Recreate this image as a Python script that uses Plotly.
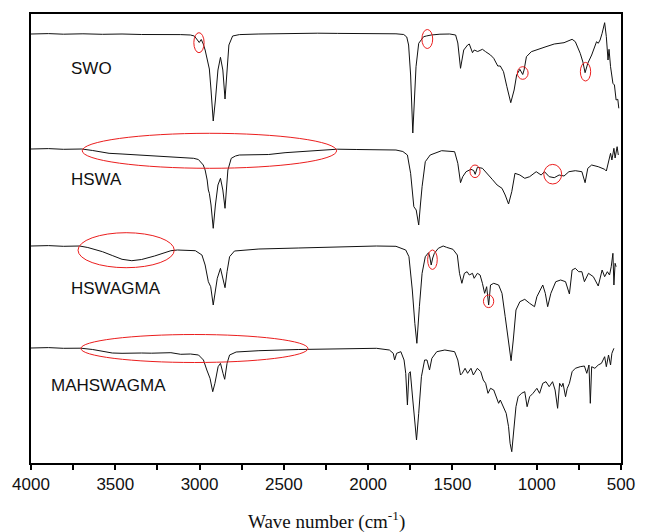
import plotly.graph_objects as go

# ---------------- data (wavenumber cm-1, transmittance a.u., stacked) ----------------
swo_wn = [4000, 3896, 3808, 3692, 3576, 3460, 3344, 3228, 3112, 3054, 3031, 3013, 3002, 2990,
          2978, 2967, 2955, 2942, 2932, 2919, 2906, 2891, 2876, 2862, 2849, 2837, 2826, 2804,
          2764, 2648, 2532, 2415, 2299, 2183, 2067, 1951, 1835, 1789, 1771, 1760, 1748, 1735,
          1725, 1716, 1700, 1671, 1655, 1626, 1574, 1516, 1481, 1468, 1452, 1433, 1410, 1400,
          1381, 1371, 1350, 1322, 1303, 1274, 1255, 1231, 1216, 1197, 1177, 1154, 1134, 1119,
          1100, 1089, 1083, 1075, 1061, 1032, 983, 945, 896, 838, 790, 771, 742, 726, 713, 697,
          674, 658, 645, 635, 624, 612, 597, 587, 577, 571, 562, 548, 539, 529, 519, 513]
swo_t = [429, 429.4, 428.8, 429.2, 428.7, 429, 428.5, 428.8, 428.4, 428, 427, 423, 420.5, 423.5,
         419, 413, 403, 394, 373, 342, 363, 393, 405.7, 393, 364, 393, 418, 427,
         428.4, 429, 429.4, 429.2, 429.8, 429.6, 429.4, 429.6, 429.2, 428.5, 426, 418, 388, 330,
         363, 396.3, 419.7, 426.3, 427, 428, 428.8, 429, 428, 420, 394.7, 413, 418, 419,
         410.3, 413, 411.5, 413.7, 411.3, 408, 404.7, 397, 397, 391.3, 376.3, 360.3, 373, 388,
         393.7, 391, 388.5, 393, 406.3, 411.3, 413.7, 416.3, 419, 420.3, 423.7, 421.3, 409.7, 401, 390.3, 399.7,
         408, 416.3, 421.3, 419.7, 423, 429.7, 440.3, 426.3, 403, 413.7, 396.3, 379.7, 378, 363, 363.7, 354.7]

hswa_wn = [4000, 3896, 3808, 3698, 3634, 3576, 3537, 3460, 3344, 3267, 3170, 3083, 3035, 3007,
           2996, 2978, 2967, 2955, 2948, 2942, 2932, 2919, 2906, 2891, 2876, 2862, 2849, 2839,
           2832, 2812, 2787, 2764, 2687, 2590, 2493, 2386, 2299, 2183, 2067, 1951, 1835, 1794,
           1767, 1748, 1739, 1729, 1715, 1700, 1690, 1680, 1661, 1632, 1564, 1516, 1487, 1468,
           1452, 1439, 1419, 1390, 1374, 1365, 1356, 1352, 1322, 1293, 1264, 1235, 1206, 1187,
           1167, 1148, 1129, 1100, 1071, 1042, 1003, 974, 954, 926, 896, 867, 838, 809, 771,
           732, 713, 697, 674, 635, 597, 587, 574, 562, 554, 542, 535, 523, 516]
hswa_t = [314, 314.4, 313.7, 314, 312.5, 310.5, 309.7, 309, 307.7, 307, 306, 305.2, 304.7, 303.5,
          301.3, 298, 293, 283, 273, 269.7, 258, 234.7, 258, 278, 284.7, 273, 254.7, 278,
          293, 304.7, 307, 308, 308, 308.5, 310.3, 311.5, 313, 313.8, 313.5, 313.2, 313, 311.5,
          308, 289.7, 273, 256.3, 253, 238, 258, 276.3, 301.3, 308, 312.3, 312, 311.3, 299.7,
          280.3, 286.3, 291.3, 293.7, 292.5, 288.7, 294, 295.7, 294.7, 289.7, 283.7, 278, 274.7, 268,
          259, 271.3, 289.7, 288, 284.7, 286.3, 291.3, 288, 291.3, 286.3, 285.3, 288, 287, 291.3, 292.3,
          291.3, 280.3, 294.7, 298, 296.3, 293.7, 292, 301.3, 309.7, 303, 314.7, 305, 316.3, 308]

hswagma_wn = [4000, 3896, 3808, 3712, 3663, 3623, 3576, 3518, 3460, 3402, 3344, 3267, 3170, 3131,
              3083, 3025, 2986, 2967, 2948, 2934, 2919, 2895, 2876, 2862, 2849, 2837, 2822, 2793,
              2648, 2415, 2183, 1951, 1835, 1777, 1758, 1738, 1723, 1711, 1696, 1680, 1661, 1642,
              1634, 1626, 1617, 1607, 1584, 1555, 1535, 1497, 1471, 1458, 1444, 1429, 1413, 1400,
              1381, 1371, 1352, 1336, 1322, 1309, 1297, 1285, 1274, 1255, 1226, 1206, 1187, 1167,
              1152, 1139, 1123, 1100, 1071, 1042, 1013, 999, 983, 964, 949, 935, 916, 887, 858,
              829, 806, 790, 771, 751, 732, 717, 693, 664, 635, 612, 597, 581, 568, 558, 548,
              542, 535, 529]
hswagma_t = [217, 217.4, 216.7, 217, 215.5, 213.5, 211.3, 207.5, 203.7, 202.3, 203.5, 207, 212.3, 213,
             212.5, 212.3, 208, 198, 181.3, 176.3, 158, 184.7, 194.7, 185, 175.3, 191.3, 206.3, 212,
             214, 215, 216, 217, 216.7, 213, 206.3, 173, 139.7, 119.7, 156.3, 189.7, 206.3, 210.3,
             206, 198, 205, 209.7, 214.7, 217, 215.7, 213.7, 208, 189.7, 179.7, 189.7, 191.3, 188,
             189.7, 184.7, 189.7, 188, 179.7, 169.7, 176.3, 158, 178, 179.7, 178, 169.7, 146.3, 123,
             102.3, 123, 153, 161.3, 163.7, 159.7, 156.3, 166.3, 171.3, 178, 169.7, 156.3, 169.7, 181.3, 183,
             181.3, 169, 193, 194.7, 191.3, 191.3, 181.3, 189.7, 186.3, 177, 193, 186.3, 191.3, 188, 196.3, 209.7,
             178, 199.7, 196.3]

mahswagma_wn = [4000, 3896, 3808, 3704, 3634, 3576, 3518, 3460, 3402, 3344, 3286, 3228, 3170, 3112,
                3054, 3006, 2977, 2957, 2938, 2922, 2909, 2890, 2876, 2861, 2851, 2837, 2822, 2783,
                2648, 2415, 2183, 1951, 1874, 1851, 1843, 1831, 1806, 1787, 1777, 1767, 1758, 1750,
                1735, 1723, 1713, 1700, 1684, 1665, 1651, 1636, 1622, 1593, 1545, 1487, 1468, 1452,
                1442, 1425, 1410, 1390, 1376, 1352, 1332, 1317, 1303, 1289, 1274, 1255, 1239, 1226,
                1216, 1197, 1181, 1167, 1158, 1148, 1134, 1123, 1110, 1090, 1071, 1057, 1042, 1022,
                999, 983, 964, 945, 926, 906, 891, 876, 864, 852, 844, 829, 819, 806, 790, 771,
                742, 717, 703, 690, 682, 674, 655, 635, 616, 597, 587, 574, 562, 554, 542]
mahswagma_t = [115, 115.4, 114.7, 114.8, 113.5, 111.5, 110, 109.7, 110.2, 110, 109.8, 110.4, 110.3, 108.7,
               109, 108, 103, 93, 84.7, 71.3, 79.7, 96.3, 99.7, 89.7, 83.7, 99.7, 108, 111,
               112.3, 113.5, 114, 114.7, 113, 109.7, 103, 109.7, 111.3, 103, 89.7, 58, 89.7, 91.3,
               63, 36.3, 23, 49.7, 86.3, 103, 103, 93, 104.7, 111.3, 113, 111.3, 103, 88,
               89.7, 94.7, 89.7, 94.7, 88, 94.7, 91.3, 83, 79.7, 69.7, 74.7, 73, 64.7, 59.7,
               63, 56.3, 49.7, 36.3, 19.7, 11.3, 36.3, 56.3, 66.3, 69.7, 71.3, 56.3, 66.3, 69.7,
               74.7, 69.7, 79.7, 81.3, 76.3, 81.3, 73, 54.7, 79.7, 76.3, 79.7, 66.3, 74.7, 79.7, 91.3, 94.7,
               96.3, 97, 89.7, 98, 59.7, 96.3, 94.7, 98, 99.7, 106.3, 96.3, 108, 98, 109.7, 114.7]

series_names = ["SWO", "HSWA", "HSWAGMA", "MAHSWAGMA"]
series_wn = [swo_wn, hswa_wn, hswagma_wn, mahswagma_wn]
series_t = [swo_t, hswa_t, hswagma_t, mahswagma_t]

# label anchor positions (wavenumber, a.u.)
label_wn = [3774, 3774, 3774, 3896]
label_t = [395, 284, 175, 78]

# red highlight ellipses: (wn_left, wn_right, t_low, t_high)
ellipses = [
    (3034, 2973, 410.3, 430.3),
    (1681, 1617, 414.5, 433.5),
    (1115, 1051, 383.7, 396.3),
    (741, 680, 382.0, 400.6),
    (3696, 2187, 294.7, 329.7),
    (1396, 1336, 285.4, 298.0),
    (958, 852, 279.0, 298.6),
    (3721, 3150, 195.3, 230.3),
    (1647, 1590, 193.6, 213.0),
    (1316, 1255, 155.4, 168.0),
    (3704, 2357, 100.5, 128.5),
]

tick_vals = [4000, 3500, 3000, 2500, 2000, 1500, 1000, 500]

# ---------------- figure ----------------
fig = go.Figure()
for name, wn, t in zip(series_names, series_wn, series_t):
    fig.add_trace(go.Scatter(x=wn, y=t, mode="lines", name=name,
                             line=dict(color="#111111", width=1), showlegend=False))

for name, lx, ly in zip(series_names, label_wn, label_t):
    fig.add_annotation(x=lx, y=ly, xref="x", yref="y", text=name, showarrow=False,
                       xanchor="left", yanchor="middle",
                       font=dict(family="Liberation Sans, Arial", size=17, color="#111111"))

for (x0, x1, y0, y1) in ellipses:
    fig.add_shape(type="circle", xref="x", yref="y", x0=x0, x1=x1, y0=y0, y1=y1,
                  line=dict(color="rgb(235,30,30)", width=1))

fig.add_annotation(x=0.5, y=-0.127, xref="paper", yref="paper",
                   text="Wave number (cm<sup>-1</sup>)", showarrow=False,
                   xanchor="center", yanchor="middle",
                   font=dict(family="Liberation Serif, Times New Roman", size=19, color="#111111"))

fig.update_layout(
    width=647, height=532,
    margin=dict(l=27, r=17, t=14, b=69),
    paper_bgcolor="white", plot_bgcolor="white",
    xaxis=dict(range=[4000, 500], tickvals=tick_vals, ticktext=[str(v) for v in tick_vals],
               showline=True, mirror=True, linecolor="black", linewidth=2,
               ticks="outside", ticklen=5, tickwidth=1.5, tickcolor="black",
               minor=dict(dtick=250, ticks="outside", ticklen=5, tickwidth=1.5, tickcolor="black"),
               showgrid=False, zeroline=False,
               tickfont=dict(family="Liberation Sans, Arial", size=17, color="#111111")),
    yaxis=dict(range=[0, 449], showticklabels=False, showline=True, mirror=True,
               linecolor="black", linewidth=2, ticks="", showgrid=False, zeroline=False),
)

fig.write_html("out.html", config={"displayModeBar": False},
               post_script="document.body.style.margin='0px';document.body.style.overflow='hidden';")
